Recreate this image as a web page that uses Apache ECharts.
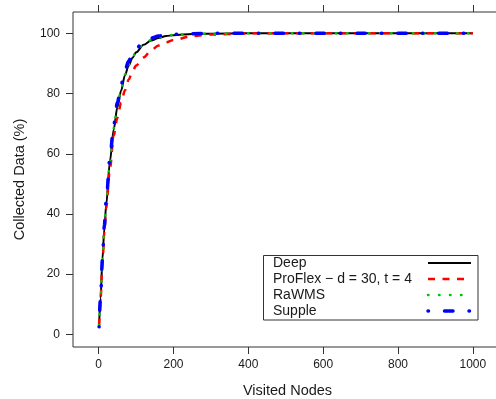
<!DOCTYPE html>
<html>
<head>
<meta charset="utf-8">
<script src="https://cdn.jsdelivr.net/npm/echarts@6/dist/echarts.min.js"></script>
<style>html,body{margin:0;padding:0;background:#fff;}#c{width:496px;height:399px;}</style>
</head>
<body>
<div id="c"></div>
<script>
const visited = [1,5,10,15,20,30,40,50,60,70,80,90,100,120,140,160,180,200,250,300,400,500,600,700,800,900,1000];
const deep    = [3,12,25,35,43,57.5,68,75.5,81,86,89.3,91.8,93.7,96.2,97.6,98.5,99.1,99.4,99.8,99.9,100,100,100,100,100,100,100];
const proflex = [3,12,23.5,34,42,55,66,72,77,81,84.6,87.3,89.3,92,94.3,96,97,97.8,99.1,99.6,100,100,100,100,100,100,100];
const rawms   = [3,12,24.5,35,43.5,57.5,68.5,76,81.5,86.3,89.6,92,94,96.4,97.8,98.6,99.2,99.5,99.8,99.9,100,100,100,100,100,100,100];
const supple  = [2.5,12.5,25,36,44.5,58.5,69.5,77,83,87.5,90.8,93.2,95,97.2,98.4,99.1,99.5,99.7,99.9,100,100,100,100,100,100,100,100];
const xTicks = [0,200,400,600,800,1000];
const yTicks = [0,20,40,60,80,100];
const names = ['Deep','ProFlex \u2212 d = 30, t = 4','RaWMS','Supple'];

const styles = [
  {color:'#000000', width:2, type:'solid', cap:'butt'},
  {color:'#ff0000', width:2.5, type:[7,7.5], cap:'butt'},
  {color:'#00c800', width:2.5, type:[0.5,10.5], cap:'round'},
  {color:'#0000ff', width:3.5, type:[0.5,16,8.5,16], cap:'round'}
];
const values = [deep, proflex, rawms, supple];
const font = "'Liberation Sans', Arial, Helvetica, sans-serif";
const txt = '#1a1a1a';

const chart = echarts.init(document.getElementById('c'), null, {renderer:'canvas'});

const series = values.map((v,i)=>({
  name: names[i], type:'line', data: visited.map((x,j)=>[x,v[j]]),
  showSymbol:false, smooth:0.3, smoothMonotone:'x', z: 2+i,
  lineStyle:{color:styles[i].color, width:styles[i].width, type:styles[i].type, cap:styles[i].cap},
  silent:true
}));

const legX = 263.5, legY = 255.5, legW = 214.5, legH = 64.5;
const rowY = [263, 279, 295, 311];
const graphic = [{type:'rect', shape:{x:legX,y:legY,width:legW,height:legH}, style:{fill:'#fff', stroke:'#333', lineWidth:1}, z:100}];
names.forEach((n,i)=>{
  graphic.push({type:'text', x:273, y:rowY[i], style:{text:n, font:"14px "+font, fill:txt, verticalAlign:'middle', align:'left'}, z:101});
  graphic.push({type:'line', shape:{x1:428,y1:rowY[i],x2:471,y2:rowY[i]}, style:{stroke:styles[i].color, lineWidth:styles[i].width, lineDash: styles[i].type==='solid'?null:styles[i].type, lineCap:styles[i].cap}, z:101});
});

const fmt = v => String(v);

chart.setOption({
  animation:false,
  backgroundColor:'#fff',
  grid:{left:73, top:12, right:-6, bottom:52, outerBoundsMode:'none', containLabel:false, show:true, borderColor:'#333', borderWidth:1, backgroundColor:'transparent'},
  xAxis:[{
    type:'value', min:-68.7, max:1078, position:'bottom',
    name:'Visited Nodes', nameLocation:'middle', nameGap:36,
    nameTextStyle:{fontFamily:font, fontSize:14.5, color:txt},
    axisLine:{show:false, onZero:false},
    axisTick:{show:true, length:7, inside:false, customValues:xTicks, lineStyle:{color:'#333'}},
    axisLabel:{customValues:xTicks, formatter:fmt, margin:12, fontFamily:font, fontSize:12, color:txt, showMinLabel:true, showMaxLabel:true},
    splitLine:{show:false}
  },{
    type:'value', min:-68.7, max:1078, position:'top',
    axisLine:{show:false, onZero:false},
    axisTick:{show:true, length:7, inside:false, customValues:xTicks, lineStyle:{color:'#333'}},
    axisLabel:{show:false}, splitLine:{show:false}
  }],
  yAxis:{
    type:'value', min:-4.2, max:107.1,
    name:'Collected Data (%)', nameLocation:'middle', nameGap:46,
    nameTextStyle:{fontFamily:font, fontSize:14.5, color:txt},
    axisLine:{show:false, onZero:false},
    axisTick:{show:true, length:7, inside:false, customValues:yTicks, lineStyle:{color:'#333'}},
    axisLabel:{customValues:yTicks, formatter:fmt, margin:13, fontFamily:font, fontSize:12, color:txt},
    splitLine:{show:false}
  },
  series: series,
  graphic: graphic
});
</script>
</body>
</html>
